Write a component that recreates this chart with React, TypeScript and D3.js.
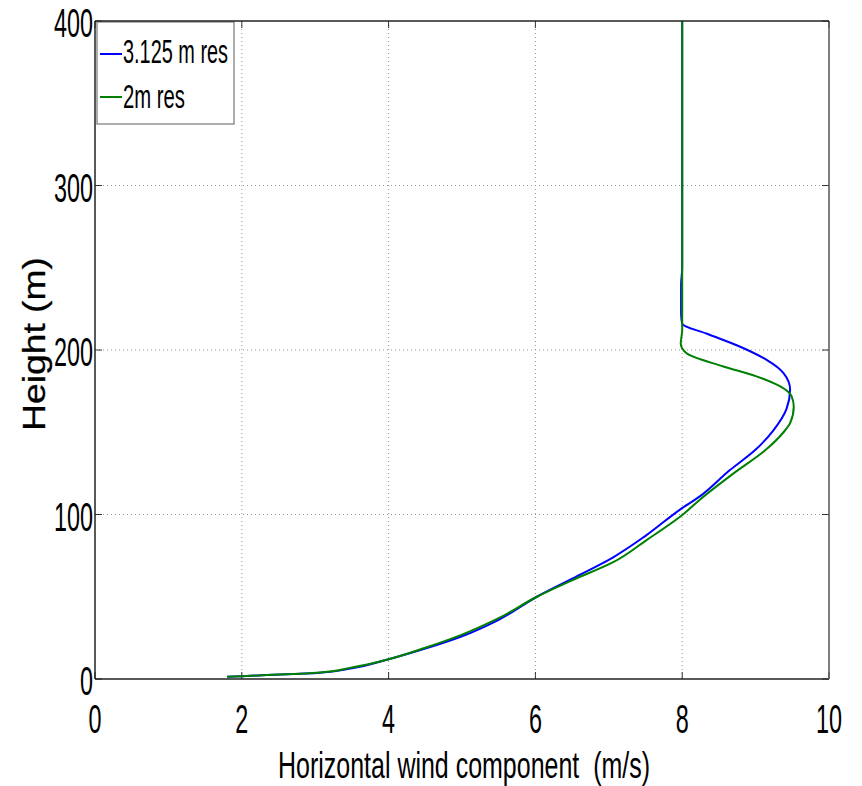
import React from "react";
import * as d3 from "d3";

const xTicks = [0, 2, 4, 6, 8, 10];
const yTicks = [0, 100, 200, 300, 400];

const blueX = [1.8, 2.0, 2.34, 2.7, 3.02, 3.5, 4.0, 4.5, 5.0, 5.5, 6.02, 6.5, 7.06, 7.5, 7.97, 8.24, 8.65, 8.99, 9.24, 9.42, 9.47, 9.38, 9.15, 8.79, 8.33, 8.0, 7.985, 7.985, 8.0, 8.0, 8.0];
const blueY = [1.3, 1.7, 2.4, 3.0, 3.6, 6.5, 12, 18.5, 26, 36, 50, 61, 74, 87, 103, 111, 127, 139, 151, 164, 176, 186, 194, 202, 210, 216, 222, 240, 250, 300, 400];

const greenX = [1.8, 2.0, 2.34, 2.7, 3.02, 3.5, 4.0, 4.5, 5.0, 5.5, 6.02, 6.5, 7.06, 7.5, 8.01, 8.24, 8.7, 9.13, 9.38, 9.47, 9.52, 9.49, 9.33, 9.01, 8.56, 8.06, 7.98, 7.99, 8.0, 8.0];
const greenY = [1.3, 1.7, 2.4, 3.0, 3.8, 7, 12, 19, 27, 37, 50, 60, 71, 84, 100, 109, 125, 139, 150, 155.5, 165.5, 172, 178, 184, 190, 198, 204, 208, 212, 400];

const seriesNames = ["3.125 m res", "2m res"];
const seriesColors = ["#0000ff", "#008000"];

const W = 862, H = 786;
const L = 95, R = 829, T = 21, B = 679;
const FONT = "'Liberation Sans', Arial, sans-serif";

export default function App() {
  const x = d3.scaleLinear().domain([0, 10]).range([L, R]);
  const y = d3.scaleLinear().domain([0, 400]).range([B, T]);
  const line = d3
    .line<[number, number]>()
    .x((d) => x(d[0]))
    .y((d) => y(d[1]))
    .curve(d3.curveMonotoneY);
  const blue: [number, number][] = blueX.map((v, i) => [v, blueY[i]]);
  const green: [number, number][] = greenX.map((v, i) => [v, greenY[i]]);
  const tl = 7;

  return (
    <svg width={W} height={H} style={{ position: "absolute", left: 0, top: 0, background: "#fff" }} fontFamily={FONT}>
      <rect x={0} y={0} width={W} height={H} fill="#fff" />
      {xTicks.slice(1, -1).map((t) => (
        <line key={"gx" + t} x1={x(t)} x2={x(t)} y1={T} y2={B} stroke="#999" strokeWidth={1} strokeDasharray="1,3" />
      ))}
      {yTicks.slice(1, -1).map((t) => (
        <line key={"gy" + t} x1={L} x2={R} y1={y(t)} y2={y(t)} stroke="#999" strokeWidth={1} strokeDasharray="1,3" />
      ))}
      {xTicks.map((t) => (
        <g key={"tx" + t}>
          <line x1={x(t)} x2={x(t)} y1={B} y2={B - tl} stroke="#333" />
          <line x1={x(t)} x2={x(t)} y1={T} y2={T + tl} stroke="#333" />
        </g>
      ))}
      {yTicks.map((t) => (
        <g key={"ty" + t}>
          <line x1={L} x2={L + tl} y1={y(t)} y2={y(t)} stroke="#333" />
          <line x1={R} x2={R - tl} y1={y(t)} y2={y(t)} stroke="#333" />
        </g>
      ))}
      <path d={line(blue) || ""} fill="none" stroke={seriesColors[0]} strokeWidth={2} />
      <path d={line(green) || ""} fill="none" stroke={seriesColors[1]} strokeWidth={2} />
      <line x1={L} x2={R} y1={B} y2={B} stroke="#222" strokeWidth={1.5} />
      <line x1={L} x2={L} y1={T} y2={B} stroke="#222" strokeWidth={1.5} />
      <line x1={R} x2={R} y1={T} y2={B} stroke="#555" strokeWidth={1.5} />
      {xTicks.map((t) => {
        const s = String(t);
        return (
          <text key={"lx" + t} x={x(t) - (s.length * 13) / 2} y={733} fontSize={41} textLength={s.length * 13} lengthAdjust="spacingAndGlyphs" fill="#000">
            {s}
          </text>
        );
      })}
      {yTicks.map((t) => {
        const s = String(t);
        return (
          <text key={"ly" + t} x={93 - s.length * 13} y={y(t) + 16} fontSize={40} textLength={s.length * 13} lengthAdjust="spacingAndGlyphs" fill="#000">
            {s}
          </text>
        );
      })}
      <text x={278} y={778} fontSize={36} textLength={372} lengthAdjust="spacingAndGlyphs" fill="#000" style={{ whiteSpace: "pre" }}>
        {"Horizontal wind component\u00a0\u00a0(m/s)"}
      </text>
      <text transform="translate(45,344) rotate(-90)" textAnchor="middle" fontSize={32} textLength={174} lengthAdjust="spacingAndGlyphs" fill="#000" stroke="#000" strokeWidth={0.3}>
        Height (m)
      </text>
      <rect x={97} y={22} width={137} height={102} fill="#fff" stroke="#777" strokeWidth={1.2} />
      <line x1={L} x2={R} y1={T} y2={T} stroke="#222" strokeWidth={1.5} />
      <line x1={100} x2={122} y1={54} y2={54} stroke={seriesColors[0]} strokeWidth={2} />
      <text x={123} y={63} fontSize={34} textLength={105} lengthAdjust="spacingAndGlyphs" fill="#000">
        {seriesNames[0]}
      </text>
      <line x1={100} x2={122} y1={97} y2={97} stroke={seriesColors[1]} strokeWidth={2} />
      <text x={123} y={108} fontSize={34} textLength={62} lengthAdjust="spacingAndGlyphs" fill="#000">
        {seriesNames[1]}
      </text>
    </svg>
  );
}
